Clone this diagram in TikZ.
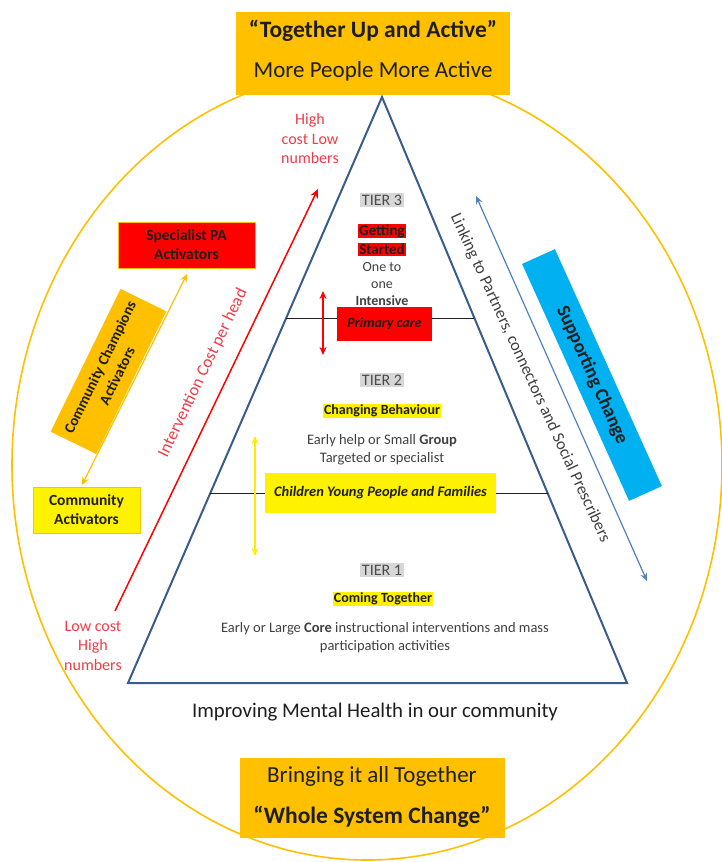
\documentclass[tikz,border=0pt]{standalone}
\usepackage{fontspec}
\setmainfont{Carlito}
\usepackage{tikz}
\usetikzlibrary{arrows.meta,positioning,calc}
\tikzset{every node/.append style={align=center}}
\definecolor{gold}{RGB}{255,192,0}
\definecolor{tricolor}{RGB}{56,93,138}
\definecolor{linkblue}{RGB}{79,129,189}
\definecolor{suppcyan}{RGB}{0,176,240}
\definecolor{costred}{RGB}{255,0,0}
\definecolor{costtext}{RGB}{240,60,70}
\definecolor{ink}{RGB}{30,30,30}
\definecolor{tiergrey}{RGB}{215,215,215}
\tikzset{
  goldbox/.style={fill=gold, inner sep=0pt, text=ink},
  redbox/.style={fill=costred, inner sep=0pt, text=ink, font=\fontsize{15.5}{19}\selectfont\bfseries},
  yellowbox/.style={fill=yellow, draw=gold, line width=0.6pt, inner sep=0pt, text=ink, font=\fontsize{15.5}{19}\selectfont\bfseries},
  tierlabel/.style={fill=tiergrey, inner sep=1.5pt, text=ink!80, font=\fontsize{16}{18}\selectfont},
  mark yellow/.style={fill=yellow, inner sep=1pt, text=ink, font=\fontsize{14}{17}\selectfont\bfseries},
  body/.style={text=ink!85, font=\fontsize{14.5}{18}\selectfont},
  costnote/.style={text=costtext, font=\fontsize{16}{19.5}\selectfont},
  twoway/.style={{Stealth[length=8pt,width=7pt]}-{Stealth[length=8pt,width=7pt]}, line width=1.2pt}
}

\begin{document}
\begin{tikzpicture}[x=1pt, y=-1pt]
    \useasboundingbox (0,0) rectangle (722,862);

    % Outer oval
    \draw[gold, line width=1.6pt] (367,465) ellipse [x radius=355, y radius=395];

    % Title boxes
    \node[goldbox, minimum width=274pt, minimum height=83pt] (top) at (373,53) {};
    \node[font=\fontsize{23.5}{26}\selectfont\bfseries, text=ink] (title) at (373,31) {``Together Up and Active''};
    \node[font=\fontsize{23}{26}\selectfont, text=ink] (subtitle) at (373,71) {More People More Active};

    \node[goldbox, minimum width=265pt, minimum height=80pt] (bottom) at (372,798) {};
    \node[font=\fontsize{23}{26}\selectfont, text=ink] (bring) at (372,776) {Bringing it all Together};
    \node[font=\fontsize{23.5}{26}\selectfont\bfseries, text=ink] (whole) at (372,817) {``Whole System Change''};

    % Triangle
    \coordinate (apex) at (382,97);
    \coordinate (baseL) at (128,683);
    \coordinate (baseR) at (627,683);
    \draw[tricolor, line width=2pt, line join=miter] (apex) -- (baseL) -- (baseR) -- cycle;

    % Tier dividers
    \draw[ink, line width=0.8pt] ($(apex)!0.377!(baseL)$) -- ($(apex)!0.377!(baseR)$);
    \draw[ink, line width=0.8pt] ($(apex)!0.676!(baseL)$) -- ($(apex)!0.676!(baseR)$);
    \node[redbox, minimum width=95pt, minimum height=34pt, font=\fontsize{14}{17}\selectfont\bfseries\itshape] (primary) at (384.5,324) {Primary care};
    \node[yellowbox, draw=none, minimum width=231pt, minimum height=40pt, font=\fontsize{14.5}{17}\selectfont\bfseries\itshape] (cypf) at (380.5,493) {Children Young People and Families};

    % Tier 3
    \node[tierlabel] (tier3) at (382,200) {TIER 3};
    \node[redbox, inner sep=0.8pt, font=\fontsize{15}{17}\selectfont\bfseries] (getting) at (382,231) {Getting};
    \node[redbox, inner sep=0.8pt, font=\fontsize{15}{17}\selectfont\bfseries] (started) at (382,249.5) {Started};
    \node[body, font=\fontsize{14}{17}\selectfont] (onetoone) at (382,284) {One to\\one\\\textbf{Intensive}};

    % Tier 2
    \node[tierlabel] (tier2) at (382,380) {TIER 2};
    \node[mark yellow] (changing) at (382,411) {Changing Behaviour};
    \node[body] (earlyhelp) at (382,450) {Early help or Small \textbf{Group}\\Targeted or specialist};

    % Tier 1
    \node[tierlabel] (tier1) at (382,570) {TIER 1};
    \node[mark yellow] (coming) at (383,599) {Coming Together};
    \node[body] (earlycore) at (385,638) {Early or Large \textbf{Core} instructional interventions and mass\\participation activities};

    \node[font=\fontsize{20.8}{24}\selectfont, text=ink] (mental) at (375,712) {Improving Mental Health in our community};

    % Tier arrows
    \coordinate (redtop) at (323,291);
    \coordinate (redbot) at (323,355);
    \draw[twoway, costred] (redtop) -- (redbot);
    \coordinate (yeltop) at (255,436);
    \coordinate (yelbot) at (255,556);
    \draw[twoway, yellow!95!orange, line width=1.5pt] (yeltop) -- (yelbot);

    % Cost arrow
    \coordinate (lowcost) at (115,611);
    \coordinate (highcost) at (318,189);
    \draw[costred, line width=1.5pt, -{Stealth[length=9pt,width=8pt]}] (lowcost) -- (highcost);
    \node[costnote, font=\fontsize{17}{20}\selectfont, rotate=64.3] (costlabel) at (203,373) {Intervention Cost per head};
    \node[costnote] (high) at (310,139) {High\\cost Low\\numbers};
    \node[costnote] (low) at (93,645.5) {Low cost\\High\\numbers};

    % Activators
    \node[redbox, draw=gold, line width=0.6pt, minimum width=137pt, minimum height=46pt] (specialist) at (186.5,245) {Specialist PA\\Activators};
    \node[yellowbox, minimum width=107pt, minimum height=46pt] (community) at (86.5,510) {Community\\Activators};
    \coordinate (champlow) at (82,485);
    \coordinate (champhigh) at (187,274);
    \draw[twoway, gold] (champlow) -- (champhigh);
    \node[goldbox, rotate=63.9, minimum width=159pt, minimum height=51pt, font=\fontsize{15}{19}\selectfont\bfseries] (champions) at (108.5,371.5) {Community Champions\\Activators};

    % Supporting change
    \coordinate (linktop) at (476,196);
    \coordinate (linkbot) at (647,581);
    \draw[twoway, linkblue] (linktop) -- (linkbot);
    \node[text=ink!85, font=\fontsize{16.7}{19}\selectfont, rotate=-65.2] (linking) at (530,378) {Linking to Partners, connectors and Social Prescribers};
    \node[fill=suppcyan, rotate=-65.7, minimum width=260pt, minimum height=36pt, text=ink, font=\fontsize{19}{22}\selectfont\bfseries] (supporting) at (592,375) {Supporting Change};
\end{tikzpicture}
\end{document}
